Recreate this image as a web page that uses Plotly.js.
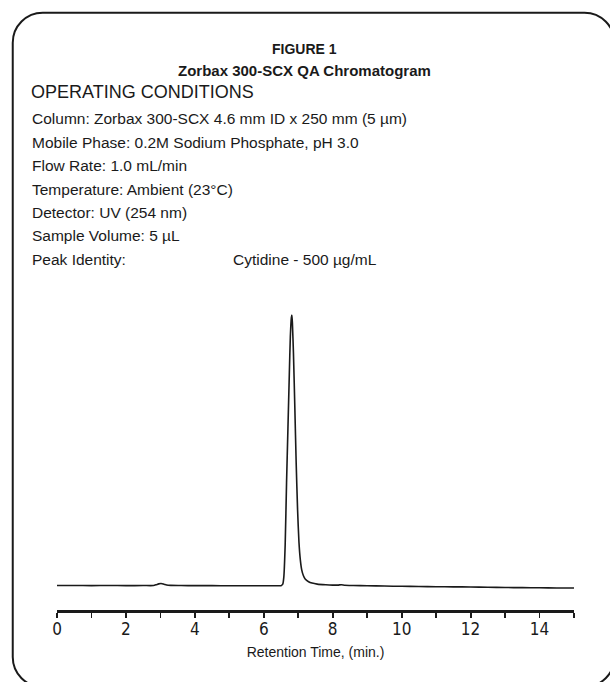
<!DOCTYPE html>
<html><head><meta charset="utf-8">
<script src="https://cdn.plot.ly/plotly-3.0.1.min.js"></script>
<style>html,body{margin:0;padding:0;background:#fff;overflow:hidden}</style>
</head><body><div id="chart" style="width:610px;height:682px"></div>
<script>
// ---- data ----
const retentionTime = [0.0,0.5,1.0,1.5,2.0,2.5,2.8,2.88,2.95,3.02,3.1,3.18,3.3,3.6,4.0,4.5,5.0,5.5,6.0,6.3,6.5,
  6.55,6.58,6.62,6.66,6.70,6.74,6.77,6.80,6.815,6.83,6.86,6.90,6.94,6.98,7.02,7.06,7.10,7.15,7.20,7.30,7.40,7.55,
  7.80,8.00,8.15,8.25,8.35,8.6,9.0,9.5,10.0,10.5,11.0,11.5,12.0,12.5,13.0,13.5,14.0,14.5,15.0];
const detectorSignal = [0.0,0.0,-0.05,0.0,-0.05,0.0,0.0,0.3,0.6,0.75,0.5,0.2,0.05,0.0,-0.05,-0.05,-0.1,-0.1,-0.1,-0.1,-0.05,
  0.5,3,15,38,58,78,92,99,100,97,86,66,45,28,16,9.5,5.8,3.6,2.4,1.4,0.9,0.5,
  0.25,0.15,0.15,0.3,0.1,0.0,-0.1,-0.2,-0.3,-0.35,-0.45,-0.5,-0.55,-0.65,-0.75,-0.8,-0.85,-0.9,-0.95];
const tickValues = [0,1,2,3,4,5,6,7,8,9,10,11,12,13,14,15];
const tickLabels = ['0','','2','','4','','6','','8','','10','','12','','14',''];
const figureLabel = 'FIGURE 1';
const chartTitle = 'Zorbax 300-SCX QA Chromatogram';
const conditionsHeading = 'OPERATING CONDITIONS';
const conditionLines = [
  'Column: Zorbax 300-SCX 4.6 mm ID x 250 mm (5 µm)',
  'Mobile Phase: 0.2M Sodium Phosphate, pH 3.0',
  'Flow Rate: 1.0 mL/min',
  'Temperature: Ambient (23°C)',
  'Detector: UV (254 nm)',
  'Sample Volume: 5 µL'
];
const peakIdentityLabel = 'Peak Identity:';
const peakIdentityValue = 'Cytidine - 500 µg/mL';
const xAxisTitle = 'Retention Time, (min.)';

// ---- layout geometry ----
const W = 610, H = 682;
const M = {l: 57, r: 35.5, t: 300, b: 72};
const pw = W - M.l - M.r, ph = H - M.t - M.b;
const px = x => (x - M.l) / pw;
const py = y => (H - M.b - y) / ph;

const narrow = '"Liberation Sans Narrow", "DejaVu Sans Condensed", Arial, sans-serif';
const regular = '"Liberation Sans", Arial, sans-serif';
const ink = '#1a1a1a';

function ann(text, x, y, size, family, anchor) {
  return {text: text, xref: 'paper', yref: 'paper', x: px(x), y: py(y), xanchor: anchor || 'left',
    yanchor: 'middle', showarrow: false, font: {family: family, size: size, color: ink}};
}
const annotations = [];
annotations.push(ann('<b>' + figureLabel + '</b>', 305, 49, 14, regular, 'center'));
annotations.push(ann('<b>' + chartTitle + '</b>', 305, 70, 15, regular, 'center'));
annotations.push(ann(conditionsHeading, 29, 92, 18, regular));
const lineY0 = 119, lineStep = 23.4;
conditionLines.forEach((t, i) => annotations.push(ann(t, 30, lineY0 + i * lineStep, 15.5, regular)));
const peakY = lineY0 + conditionLines.length * lineStep;
annotations.push(ann(peakIdentityLabel, 30, peakY, 15.5, regular));
annotations.push(ann(peakIdentityValue, 231, peakY, 15.5, regular));

// rounded frame (pixels -> paper)
function roundRect(x0, y0, x1, y1, r) {
  const k = 0.5523 * r;
  const P = (x, y) => px(x).toFixed(5) + ',' + py(y).toFixed(5);
  return 'M' + P(x0 + r, y0) + ' L' + P(x1 - r, y0) +
    ' C' + P(x1 - r + k, y0) + ' ' + P(x1, y0 + r - k) + ' ' + P(x1, y0 + r) +
    ' L' + P(x1, y1 - r) +
    ' C' + P(x1, y1 - r + k) + ' ' + P(x1 - r + k, y1) + ' ' + P(x1 - r, y1) +
    ' L' + P(x0 + r, y1) +
    ' C' + P(x0 + r - k, y1) + ' ' + P(x0, y1 - r + k) + ' ' + P(x0, y1 - r) +
    ' L' + P(x0, y0 + r) +
    ' C' + P(x0, y0 + r - k) + ' ' + P(x0 + r - k, y0) + ' ' + P(x0 + r, y0) + ' Z';
}

const trace = {
  x: retentionTime, y: detectorSignal, type: 'scatter', mode: 'lines',
  line: {color: ink, width: 1.6, shape: 'spline', smoothing: 0.6}, hoverinfo: 'skip'
};

const yPerUnit = (585.5 - 315) / 100;
const yMin = -(610 - 585.5) / yPerUnit;
const yMax = yMin + ph / yPerUnit;

const layout = {
  width: W, height: H, margin: M, paper_bgcolor: '#fff', plot_bgcolor: '#fff', showlegend: false,
  xaxis: {
    range: [0, 15], tickmode: 'array', tickvals: tickValues, ticktext: tickLabels,
    showline: true, linecolor: ink, linewidth: 2.8, ticks: 'outside', ticklen: 5, tickwidth: 1.8, tickcolor: ink,
    showgrid: false, zeroline: false, tickfont: {family: narrow, size: 17, color: ink}, ticklabelstandoff: -3,
    title: {text: xAxisTitle, font: {family: regular, size: 14, color: ink}, standoff: 9},
    automargin: false, fixedrange: true
  },
  yaxis: {range: [yMin, yMax], visible: false, showgrid: false, zeroline: false, fixedrange: true},
  annotations: annotations,
  shapes: [{type: 'path', xref: 'paper', yref: 'paper', path: roundRect(12.7, 12.7, 615, 687, 30),
    line: {color: ink, width: 2}, fillcolor: 'rgba(0,0,0,0)', layer: 'above'}]
};

Plotly.newPlot('chart', [trace], layout, {staticPlot: true, displayModeBar: false});
</script></body></html>
